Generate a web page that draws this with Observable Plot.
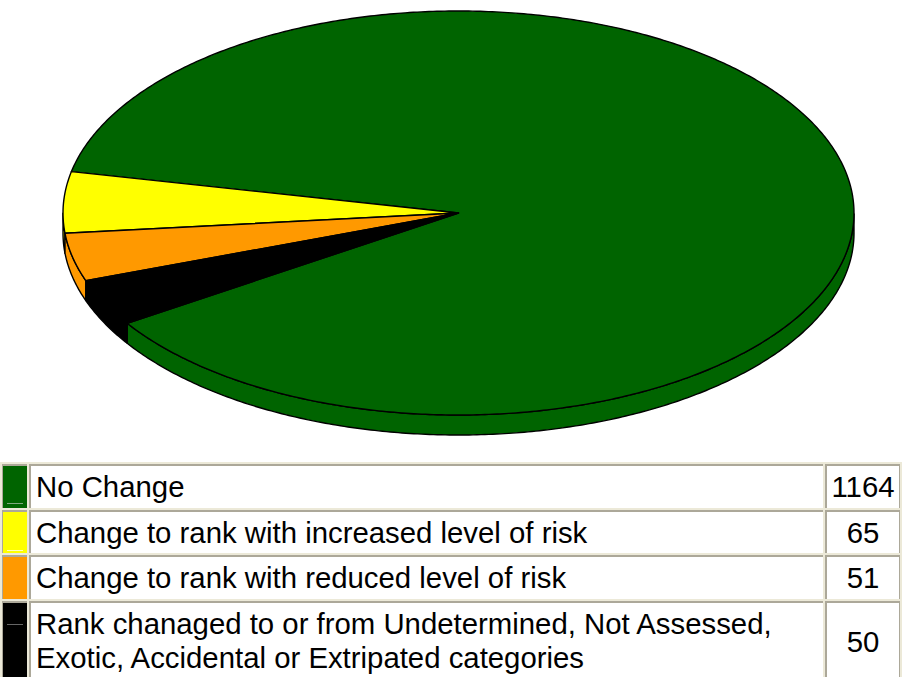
<!DOCTYPE html>
<html>
<head>
<meta charset="utf-8">
<script src="https://cdn.jsdelivr.net/npm/d3@7"></script>
<script src="https://cdn.jsdelivr.net/npm/@observablehq/plot@0.6"></script>
<style>
html, body { margin: 0; padding: 0; background: #fff; overflow: hidden; height: 677px; }
#chart svg { display: block; }
#legend { position: absolute; left: 0; top: 462px; width: 902px; border-collapse: separate; border-spacing: 2px;
  background: #ece9d8; font: 29.35px/34px "Liberation Sans", Arial, sans-serif; color: #000; table-layout: fixed; }
#legend td { padding: 0; box-sizing: border-box; border-top: 2px solid #aca899; border-left: 2px solid #aca899; background: #fff; position: relative; }
#legend td.swatch { border-left-width: 1px; }
#legend td.label { padding: 0 3px 0 5px; }
#legend td.count { text-align: center; border-right: 1px solid #aca899; }
#legend tr:last-child td.label { padding-top: 4px; padding-bottom: 5px; }
#legend .tick { position: absolute; left: 4px; width: 16px; height: 1px; }
</style>
</head>
<body>
<div id="chart"></div>
<table id="legend"><colgroup><col style="width:25px"><col style="width:794px"><col style="width:75px"></colgroup><tbody></tbody></table>
<script>
const categories = ["No Change", "Change to rank with increased level of risk", "Change to rank with reduced level of risk", "Rank chanaged to or from Undetermined, Not Assessed,\nExotic, Accidental or Extripated categories"];
const counts = [1164, 65, 51, 50];
const colors = ["#006400", "#ffff00", "#ff9900", "#000000"];
const startDegrees = 236.9;   // clock angle of the first slice's leading edge
const depth = 0.099;          // rim thickness as a share of the vertical radius
const rowHeights = [44, 43, 44, null];
const tickTops = [37, 38, null, 21];
const tickColors = ["#7fa97f", "#ffffc0", null, "#666666"];

const pie = d3.pie().sort(null).startAngle(startDegrees * Math.PI / 180).endAngle((startDegrees - 360) * Math.PI / 180);
const arcs = pie(counts);

const top_ = [], wall = [];
const arcPts = (a0, a1) => {
  const n = Math.max(2, Math.ceil(Math.abs(a1 - a0) / 0.01));
  return d3.range(n + 1).map(i => a0 + (a1 - a0) * i / n);
};
arcs.forEach((a, k) => {
  const pts = arcPts(a.startAngle, a.endAngle);
  const rim = pts.map(t => [Math.sin(t), Math.cos(t)]);
  const ring = [[0, 0], ...rim, [0, 0]];
  ring.forEach(([x, y]) => top_.push({k, x, y, c: colors[k]}));
  const low = rim.filter(([, y]) => y <= 0);
  if (low.length > 1) {
    const w = [...low, ...low.slice().reverse().map(([x, y]) => [x, y - depth])];
    w.push(w[0]);
    w.forEach(([x, y]) => wall.push({k, x, y, c: colors[k]}));
  }
});

const plot = Plot.plot({
  width: 904, height: 460, margin: 0, axis: null,
  x: {domain: [-1, 1], range: [62.5, 853.5]},
  y: {domain: [1, -1], range: [10.5, 414.5]},
  marks: [
    Plot.line(wall, {x: "x", y: "y", z: "k", fill: "c", stroke: "#000", strokeWidth: 1.4, curve: "linear"}),
    Plot.line(top_, {x: "x", y: "y", z: "k", fill: "c", stroke: "#000", strokeWidth: 1.4, curve: "linear"})
  ]
});
document.getElementById("chart").append(plot);

const tb = document.querySelector("#legend tbody");
categories.forEach((c, i) => {
  const tr = document.createElement("tr");
  if (rowHeights[i]) tr.style.height = rowHeights[i] + "px";
  const s = document.createElement("td"); s.className = "swatch"; s.style.background = colors[i];
  if (tickTops[i] !== null) {
    const t = document.createElement("div"); t.className = "tick";
    t.style.top = tickTops[i] + "px"; t.style.background = tickColors[i];
    s.append(t);
  }
  const l = document.createElement("td"); l.className = "label"; l.innerHTML = c.replace("\n", "<br>");
  const n = document.createElement("td"); n.className = "count"; n.textContent = counts[i];
  tr.append(s, l, n); tb.append(tr);
});
</script>
</body>
</html>
